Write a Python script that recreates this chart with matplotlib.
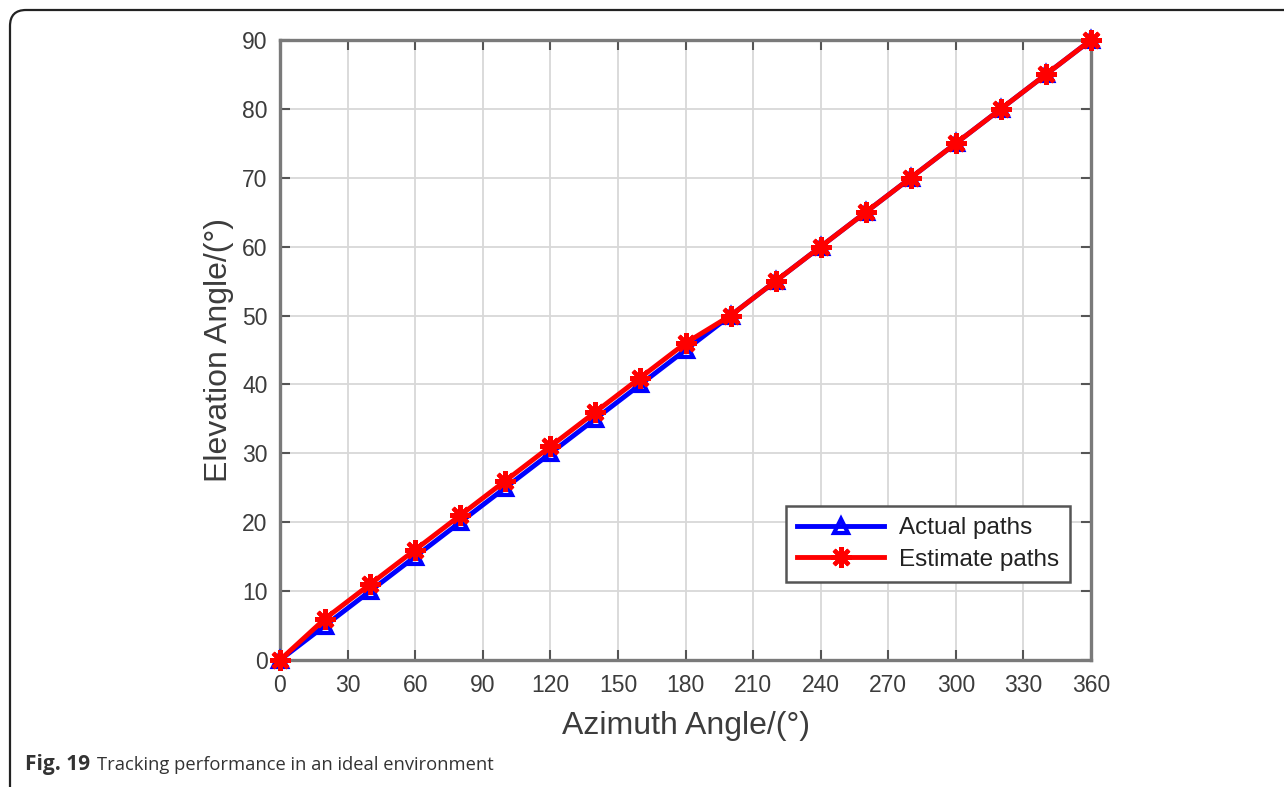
import matplotlib
matplotlib.use('Agg')
import matplotlib.pyplot as plt
from matplotlib.patches import FancyBboxPatch

# azimuth (deg) and elevation (deg) of the tracked paths
azimuth = [0, 20, 40, 60, 80, 100, 120, 140, 160, 180, 200, 220, 240, 260, 280, 300, 320, 340, 360]
actual = [0, 5, 10, 15, 20, 25, 30, 35, 40, 45, 50, 55, 60, 65, 70, 75, 80, 85, 90]
estimate = [0, 6, 11, 16, 21, 26, 31, 36, 41, 46, 50, 55, 60, 65, 70, 75, 80, 85, 90]

xticks = list(range(0, 361, 30))
yticks = list(range(0, 91, 10))

plt.rcParams['font.family'] = ['Liberation Sans', 'DejaVu Sans']
text_col = '#3c3c3c'

fig = plt.figure(figsize=(12.84, 7.87), dpi=100)

# frame around the figure, rounded top-left corner, runs off right/bottom
frame = FancyBboxPatch((0.1, -0.6), 13.5, 8.37,
                       boxstyle='round,pad=0,rounding_size=0.16',
                       transform=fig.dpi_scale_trans, fill=False,
                       edgecolor='#222222', linewidth=1.6)
fig.add_artist(frame)

ax = fig.add_axes([280 / 1284, 1 - 660 / 787, 811 / 1284, 620 / 787])

ax.plot(azimuth, actual, '-^', color='#0000ff', lw=3.5, ms=10.5,
        mfc='none', mew=3, label='Actual paths', clip_on=False, zorder=3)
ax.plot(azimuth, estimate, '-', marker=(8, 2, 0), color='#ff0000', lw=3.5,
        ms=15, mew=3, label='Estimate paths', clip_on=False, zorder=4)

ax.set_xlim(0, 360)
ax.set_ylim(0, 90)
ax.set_xticks(xticks)
ax.set_yticks(yticks)
ax.grid(True, color='#d8d8d8', lw=1.3)
ax.set_axisbelow(True)
ax.tick_params(direction='in', length=7, width=1.5, colors='#555555',
               labelcolor=text_col, labelsize=16.5, top=True, right=True)
ax.tick_params(axis='y', pad=9)
ax.tick_params(axis='x', pad=10)
for s in ax.spines.values():
    s.set_color('#7a7a7a')
    s.set_linewidth(2.4)

ax.set_xlabel('Azimuth Angle/(°)', fontsize=23, color=text_col, labelpad=10)
ax.set_ylabel('Elevation Angle/(°)', fontsize=23, color=text_col, labelpad=6)

leg = ax.legend(loc='lower right', bbox_to_anchor=(0.974, 0.126), fontsize=17.5,
                fancybox=False, framealpha=1, edgecolor='#555555',
                handlelength=3.6, borderpad=0.45, labelspacing=0.4,
                handletextpad=0.6, borderaxespad=0)
leg.get_frame().set_linewidth(1.8)
leg.set_zorder(5)
for t in leg.get_texts():
    t.set_color('#222222')

# caption
cap_font = ['Open Sans', 'DejaVu Sans']
fig.text(25 / 1284, 1 - 770 / 787, 'Fig. 19', fontsize=15,
         fontweight='bold', family=cap_font, color='#333333', va='baseline')
fig.text(97 / 1284, 1 - 770 / 787, 'Tracking performance in an ideal environment',
         fontsize=13.2, family=cap_font, color='#333333', va='baseline')

fig.savefig('out.png', dpi=100)
